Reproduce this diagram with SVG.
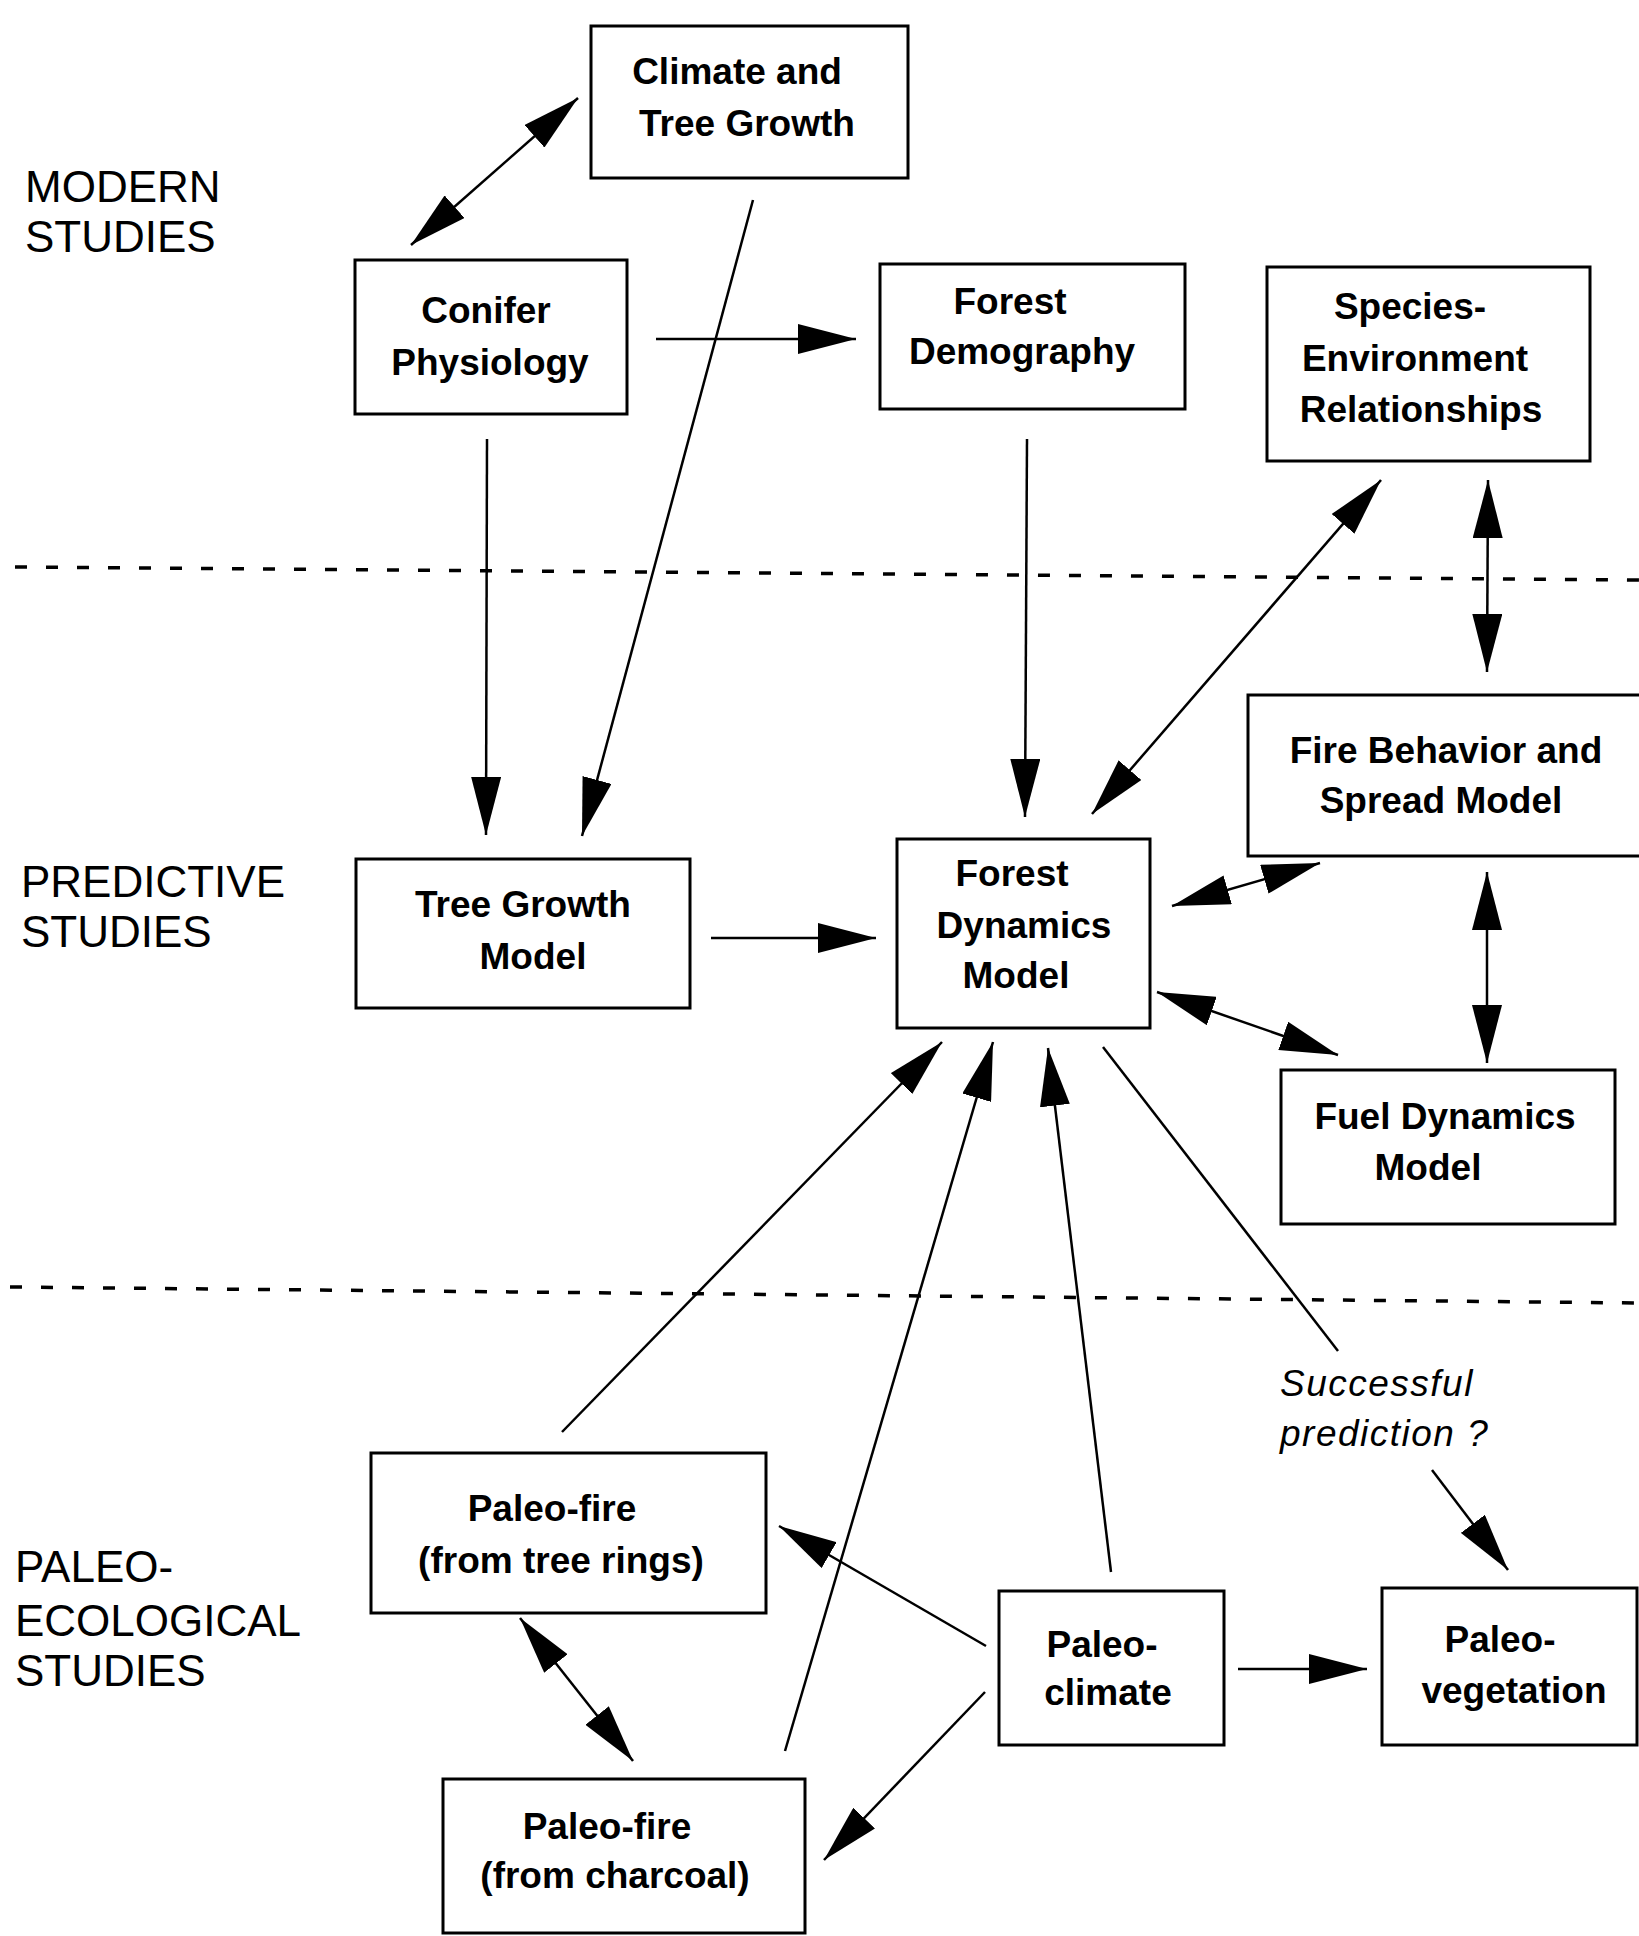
<svg xmlns="http://www.w3.org/2000/svg" width="1639" height="1936" viewBox="0 0 1639 1936">
<style>
.box{fill:#fff;stroke:#000;stroke-width:3}
.lbl{font-family:"Liberation Sans",Arial,Helvetica,sans-serif;font-weight:bold;font-size:37px;fill:#000;text-anchor:middle}
.side{font-family:"Liberation Sans",Arial,Helvetica,sans-serif;font-size:44px;fill:#000}
.note{font-family:"Liberation Sans",Arial,Helvetica,sans-serif;font-style:italic;font-size:37px;fill:#000;letter-spacing:1.5px}
.c{stroke:#000;stroke-width:2.5;fill:none}
.sep{stroke:#000;stroke-width:3.5;stroke-dasharray:12 19;fill:none}
</style>
<defs>
<marker id="ah" markerUnits="userSpaceOnUse" markerWidth="58" markerHeight="30" refX="58" refY="15" orient="auto-start-reverse" viewBox="0 0 58 30">
<path d="M0,0 L58,15 L0,30 Z" fill="#000"/>
</marker>
</defs>
<rect width="1639" height="1936" fill="#fff"/>

<g id="separators">
<line class="sep" x1="15" y1="567" x2="1639" y2="580"/>
<line class="sep" x1="10" y1="1287" x2="1639" y2="1303"/>
</g>

<g id="section-labels">
<text class="side" x="25" y="202">MODERN</text>
<text class="side" x="25" y="252">STUDIES</text>
<text class="side" x="21" y="897">PREDICTIVE</text>
<text class="side" x="21" y="947">STUDIES</text>
<text class="side" x="15" y="1582">PALEO-</text>
<text class="side" x="15" y="1636">ECOLOGICAL</text>
<text class="side" x="15" y="1686">STUDIES</text>
</g>

<g id="connectors">
<line class="c" x1="411" y1="245" x2="578" y2="98" marker-start="url(#ah)" marker-end="url(#ah)"/>
<line class="c" x1="656" y1="339" x2="856" y2="339" marker-end="url(#ah)"/>
<line class="c" x1="753" y1="200" x2="582" y2="836" marker-end="url(#ah)"/>
<line class="c" x1="487" y1="439" x2="486" y2="835" marker-end="url(#ah)"/>
<line class="c" x1="1027" y1="439" x2="1025" y2="817" marker-end="url(#ah)"/>
<line class="c" x1="1092" y1="814" x2="1381" y2="480" marker-start="url(#ah)" marker-end="url(#ah)"/>
<line class="c" x1="1488" y1="480" x2="1487" y2="672" marker-start="url(#ah)" marker-end="url(#ah)"/>
<line class="c" x1="711" y1="938" x2="876" y2="938" marker-end="url(#ah)"/>
<line class="c" x1="1172" y1="906" x2="1320" y2="863" marker-start="url(#ah)" marker-end="url(#ah)"/>
<line class="c" x1="1157" y1="992" x2="1338" y2="1055" marker-start="url(#ah)" marker-end="url(#ah)"/>
<line class="c" x1="1487" y1="872" x2="1487" y2="1063" marker-start="url(#ah)" marker-end="url(#ah)"/>
<line class="c" x1="562" y1="1432" x2="942" y2="1042" marker-end="url(#ah)"/>
<line class="c" x1="785" y1="1751" x2="993" y2="1042" marker-end="url(#ah)"/>
<line class="c" x1="1111" y1="1572" x2="1048" y2="1048" marker-end="url(#ah)"/>
<line class="c" x1="1103" y1="1047" x2="1338" y2="1351"/>
<line class="c" x1="1432" y1="1470" x2="1508" y2="1570" marker-end="url(#ah)"/>
<line class="c" x1="986" y1="1646" x2="779" y2="1526" marker-end="url(#ah)"/>
<line class="c" x1="985" y1="1692" x2="824" y2="1860" marker-end="url(#ah)"/>
<line class="c" x1="1238" y1="1669" x2="1367" y2="1669" marker-end="url(#ah)"/>
<line class="c" x1="520" y1="1618" x2="633" y2="1761" marker-start="url(#ah)" marker-end="url(#ah)"/>
<text class="note" x="1280" y="1396">Successful</text>
<text class="note" x="1280" y="1446">prediction ?</text>
</g>

<g id="climate-tree-growth">
<rect class="box" x="591" y="26" width="317" height="152"/>
<text class="lbl" x="737" y="84">Climate and</text>
<text class="lbl" x="747" y="136">Tree Growth</text>
</g>
<g id="conifer-physiology">
<rect class="box" x="355" y="260" width="272" height="154"/>
<text class="lbl" x="486" y="323">Conifer</text>
<text class="lbl" x="490" y="375">Physiology</text>
</g>
<g id="forest-demography">
<rect class="box" x="880" y="264" width="305" height="145"/>
<text class="lbl" x="1010" y="314">Forest</text>
<text class="lbl" x="1022" y="364">Demography</text>
</g>
<g id="species-environment">
<rect class="box" x="1267" y="267" width="323" height="194"/>
<text class="lbl" x="1410" y="319">Species-</text>
<text class="lbl" x="1415" y="371">Environment</text>
<text class="lbl" x="1421" y="422">Relationships</text>
</g>
<g id="fire-behavior">
<rect class="box" x="1248" y="695" width="400" height="161"/>
<text class="lbl" x="1446" y="763">Fire Behavior and</text>
<text class="lbl" x="1441" y="813">Spread Model</text>
</g>
<g id="tree-growth-model">
<rect class="box" x="356" y="859" width="334" height="149"/>
<text class="lbl" x="523" y="917">Tree Growth</text>
<text class="lbl" x="533" y="969">Model</text>
</g>
<g id="forest-dynamics-model">
<rect class="box" x="897" y="839" width="253" height="189"/>
<text class="lbl" x="1012" y="886">Forest</text>
<text class="lbl" x="1024" y="938">Dynamics</text>
<text class="lbl" x="1016" y="988">Model</text>
</g>
<g id="fuel-dynamics-model">
<rect class="box" x="1281" y="1070" width="334" height="154"/>
<text class="lbl" x="1445" y="1129">Fuel Dynamics</text>
<text class="lbl" x="1428" y="1180">Model</text>
</g>
<g id="paleo-fire-tree-rings">
<rect class="box" x="371" y="1453" width="395" height="160"/>
<text class="lbl" x="552" y="1521">Paleo-fire</text>
<text class="lbl" x="561" y="1573">(from tree rings)</text>
</g>
<g id="paleo-fire-charcoal">
<rect class="box" x="443" y="1779" width="362" height="154"/>
<text class="lbl" x="607" y="1839">Paleo-fire</text>
<text class="lbl" x="615" y="1888">(from charcoal)</text>
</g>
<g id="paleo-climate">
<rect class="box" x="999" y="1591" width="225" height="154"/>
<text class="lbl" x="1102" y="1657">Paleo-</text>
<text class="lbl" x="1108" y="1705">climate</text>
</g>
<g id="paleo-vegetation">
<rect class="box" x="1382" y="1588" width="255" height="157"/>
<text class="lbl" x="1500" y="1652">Paleo-</text>
<text class="lbl" x="1514" y="1703">vegetation</text>
</g>
</svg>
